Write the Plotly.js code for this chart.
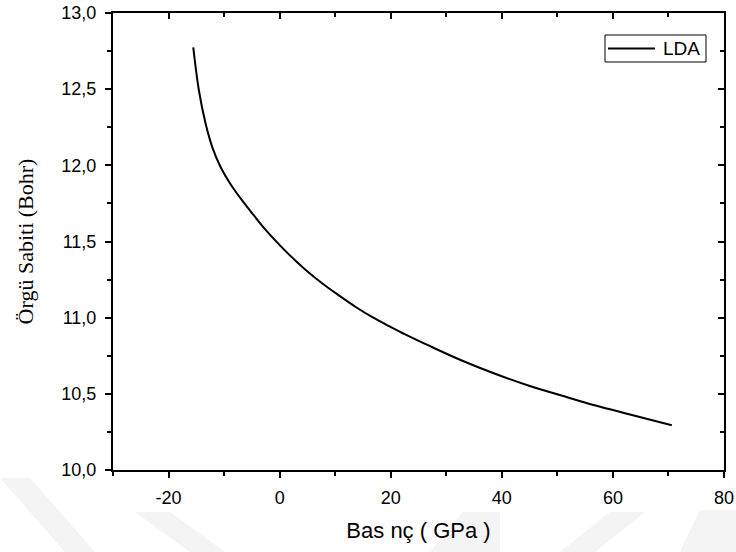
<!DOCTYPE html>
<html>
<head>
<meta charset="utf-8">
<script src="https://cdn.plot.ly/plotly-3.0.1.min.js"></script>
<style>
html,body{margin:0;padding:0;background:#fff;}
#chart{width:736px;height:552px;}
</style>
</head>
<body>
<div id="chart"></div>
<script>
// Pressure (GPa) and lattice constant (Bohr)
const pressure = [-15.55, -14.54, -13.33, -12.13, -10.63, -8.83, -6.72, -4.63, -2.52, 1.7, 4.7, 7.7, 10.7, 13.7, 16.7, 19.7, 22.7, 26.9, 32.9, 38.9, 44.9, 50.9, 56.9, 62.9, 70.6];
const latticeConst = [12.774, 12.493, 12.274, 12.120, 11.989, 11.876, 11.768, 11.671, 11.576, 11.414, 11.313, 11.224, 11.145, 11.070, 11.003, 10.945, 10.889, 10.816, 10.717, 10.630, 10.553, 10.487, 10.423, 10.366, 10.294];
const seriesName = "LDA";
const xTitle = "Bas nç ( GPa )";
const yTitle = "Örgü Sabiti (Bohr)";
const xTickVals = [-20, 0, 20, 40, 60, 80];
const xTickText = ["-20", "0", "20", "40", "60", "80"];

const sans = "Liberation Sans, Arial, sans-serif";
const tickFont = {family: sans, size: 18, color: "#000"};

const traces = [
  {x: pressure, y: latticeConst, type: "scatter", mode: "lines", name: seriesName,
   showlegend: false, line: {color: "#000", width: 2, shape: "spline", smoothing: 1}},
  {x: pressure, y: latticeConst, type: "scatter", mode: "lines", xaxis: "x2", yaxis: "y2",
   showlegend: false, hoverinfo: "skip", opacity: 0, line: {color: "#000", width: 0}}
];

// pixel -> paper helpers for decorative shapes / manual legend
const L = 113, R = 724, T = 13, B = 470;
const px = v => (v - L) / (R - L);
const py = v => (B - v) / (B - T);
const poly = pts => "M" + pts.map(p => px(p[0]).toFixed(4) + "," + py(p[1]).toFixed(4)).join(" L") + " Z";

const wm = "#f4f4f4";
const shapes = [
  {type: "path", xref: "paper", yref: "paper", layer: "below", line: {width: 0}, fillcolor: wm,
   path: poly([[0, 478], [30, 478], [95, 552], [65, 552]])},
  {type: "path", xref: "paper", yref: "paper", layer: "below", line: {width: 0}, fillcolor: wm,
   path: poly([[135, 512], [170, 512], [225, 552], [190, 552]])},
  {type: "path", xref: "paper", yref: "paper", layer: "below", line: {width: 0}, fillcolor: wm,
   path: poly([[463, 512], [500, 512], [500, 552], [430, 552]])},
  {type: "path", xref: "paper", yref: "paper", layer: "below", line: {width: 0}, fillcolor: wm,
   path: poly([[610, 512], [645, 512], [595, 552], [560, 552]])},
  {type: "path", xref: "paper", yref: "paper", layer: "below", line: {width: 0}, fillcolor: wm,
   path: poly([[700, 510], [736, 510], [736, 552], [680, 552]])},
  // legend box and sample line
  {type: "rect", xref: "paper", yref: "paper", x0: px(605), x1: px(706), y0: py(62), y1: py(35),
   line: {color: "#000", width: 1}, fillcolor: "#fff"},
  {type: "line", xref: "paper", yref: "paper", x0: px(608), x1: px(655), y0: py(48.5), y1: py(48.5),
   line: {color: "#000", width: 2}}
];

const annotations = [
  {xref: "paper", yref: "paper", x: px(661), y: py(48.5), xanchor: "left", yanchor: "middle",
   text: seriesName, showarrow: false, font: {family: sans, size: 19, color: "#000"}}
];

const layout = {
  width: 736, height: 552,
  margin: {l: L, r: 736 - R, t: T, b: 552 - B},
  paper_bgcolor: "#fff", plot_bgcolor: "rgba(0,0,0,0)",
  separators: ", ",
  showlegend: false,
  shapes: shapes,
  annotations: annotations,
  xaxis: {range: [-30, 80], tickmode: "array", tickvals: xTickVals, ticktext: xTickText,
          showgrid: false, zeroline: false,
          showline: true, linecolor: "#000", linewidth: 2,
          ticks: "outside", ticklen: 6, tickwidth: 2, tickcolor: "#000",
          minor: {dtick: 10, tick0: 0, ticks: "outside", ticklen: 4, tickwidth: 2, tickcolor: "#000", showgrid: false},
          tickfont: tickFont, ticklabelstandoff: 4,
          title: {text: xTitle, font: {family: sans, size: 22, color: "#000"}, standoff: 16}},
  yaxis: {range: [10, 13], dtick: 0.5, tickformat: ".1f", showgrid: false, zeroline: false,
          showline: true, linecolor: "#000", linewidth: 2,
          ticks: "outside", ticklen: 6, tickwidth: 2, tickcolor: "#000",
          minor: {dtick: 0.25, ticks: "outside", ticklen: 4, tickwidth: 2, tickcolor: "#000", showgrid: false},
          tickfont: tickFont, ticklabelstandoff: 5,
          title: {text: yTitle, font: {family: "Liberation Serif, Times New Roman, serif", size: 22, color: "#000"}, standoff: 22}},
  xaxis2: {overlaying: "x", side: "top", range: [-30, 80], tickmode: "array", tickvals: xTickVals,
           showgrid: false, zeroline: false, showline: true, linecolor: "#000", linewidth: 2,
           ticks: "inside", ticklen: 6, tickwidth: 2, tickcolor: "#000", showticklabels: false,
           minor: {dtick: 10, tick0: 0, ticks: "inside", ticklen: 4, tickwidth: 2, tickcolor: "#000", showgrid: false}},
  yaxis2: {overlaying: "y", side: "right", range: [10, 13], dtick: 0.5,
           showgrid: false, zeroline: false, showline: true, linecolor: "#000", linewidth: 2,
           ticks: "inside", ticklen: 6, tickwidth: 2, tickcolor: "#000", showticklabels: false,
           minor: {dtick: 0.25, ticks: "inside", ticklen: 4, tickwidth: 2, tickcolor: "#000", showgrid: false}}
};

Plotly.newPlot("chart", traces, layout, {staticPlot: true, displayModeBar: false});
</script>
</body>
</html>
